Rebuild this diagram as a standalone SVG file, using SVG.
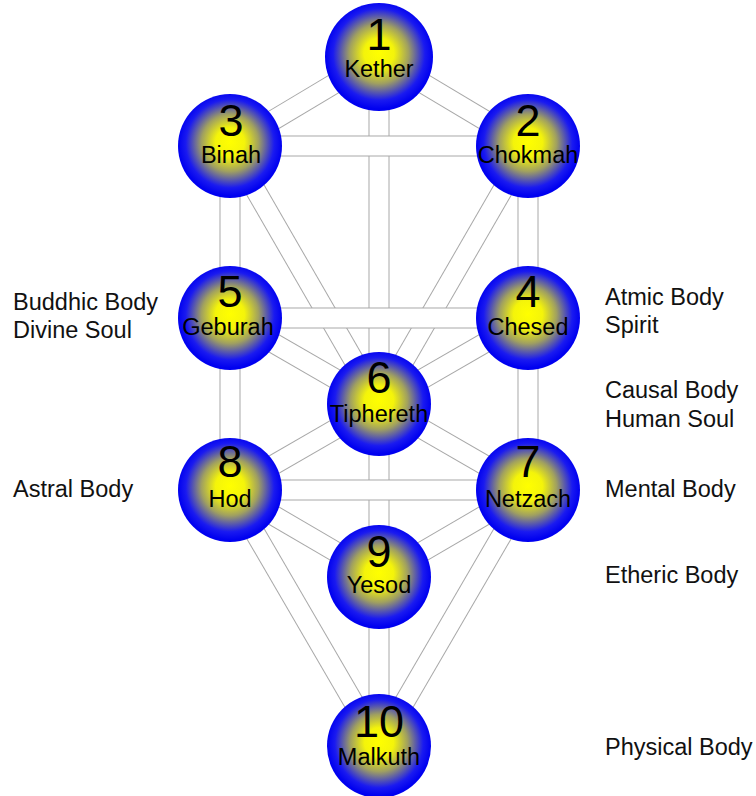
<svg xmlns="http://www.w3.org/2000/svg" width="756" height="796" viewBox="0 0 756 796">
<style>
.po{stroke:#a8a8a8;stroke-width:21;fill:none}
.pi{stroke:#ffffff;stroke-width:19;fill:none}
.ball{fill:url(#g)}
.num{font-family:"Liberation Sans",Arial,sans-serif;font-size:45px;fill:#000;text-anchor:middle}
.lbl{font-family:"Liberation Sans",Arial,sans-serif;font-size:23.5px;fill:#000;text-anchor:middle}
.side{font-family:"Liberation Sans",Arial,sans-serif;font-size:23.5px;fill:#111}
</style>
<defs>
<radialGradient id="g" cx="0.5" cy="0.48" r="0.5" fx="0.5" fy="0.46">
<stop offset="0" stop-color="#ffff00"/>
<stop offset="0.28" stop-color="#f4f40a"/>
<stop offset="0.55" stop-color="#a0a060"/>
<stop offset="0.85" stop-color="#1a1af0"/>
<stop offset="1" stop-color="#0000f0"/>
</radialGradient>
</defs>
<rect width="756" height="796" fill="#ffffff"/>
<g id="connectors">
<line class="po" x1="379" y1="57" x2="528" y2="146"/><line class="pi" x1="379" y1="57" x2="528" y2="146"/>
<line class="po" x1="379" y1="57" x2="230" y2="146"/><line class="pi" x1="379" y1="57" x2="230" y2="146"/>
<line class="po" x1="528" y1="146" x2="379" y2="404"/><line class="pi" x1="528" y1="146" x2="379" y2="404"/>
<line class="po" x1="230" y1="146" x2="379" y2="404"/><line class="pi" x1="230" y1="146" x2="379" y2="404"/>
<line class="po" x1="528" y1="318" x2="379" y2="404"/><line class="pi" x1="528" y1="318" x2="379" y2="404"/>
<line class="po" x1="230" y1="318" x2="379" y2="404"/><line class="pi" x1="230" y1="318" x2="379" y2="404"/>
<line class="po" x1="379" y1="404" x2="528" y2="490"/><line class="pi" x1="379" y1="404" x2="528" y2="490"/>
<line class="po" x1="379" y1="404" x2="230" y2="490"/><line class="pi" x1="379" y1="404" x2="230" y2="490"/>
<line class="po" x1="528" y1="490" x2="379" y2="577"/><line class="pi" x1="528" y1="490" x2="379" y2="577"/>
<line class="po" x1="230" y1="490" x2="379" y2="577"/><line class="pi" x1="230" y1="490" x2="379" y2="577"/>
<line class="po" x1="528" y1="490" x2="379" y2="746"/><line class="pi" x1="528" y1="490" x2="379" y2="746"/>
<line class="po" x1="230" y1="490" x2="379" y2="746"/><line class="pi" x1="230" y1="490" x2="379" y2="746"/>
<line class="po" x1="379" y1="57" x2="379" y2="404"/><line class="pi" x1="379" y1="57" x2="379" y2="404"/>
<line class="po" x1="379" y1="404" x2="379" y2="577"/><line class="pi" x1="379" y1="404" x2="379" y2="577"/>
<line class="po" x1="379" y1="577" x2="379" y2="746"/><line class="pi" x1="379" y1="577" x2="379" y2="746"/>
<line class="po" x1="230" y1="146" x2="230" y2="318"/><line class="pi" x1="230" y1="146" x2="230" y2="318"/>
<line class="po" x1="230" y1="318" x2="230" y2="490"/><line class="pi" x1="230" y1="318" x2="230" y2="490"/>
<line class="po" x1="528" y1="146" x2="528" y2="318"/><line class="pi" x1="528" y1="146" x2="528" y2="318"/>
<line class="po" x1="528" y1="318" x2="528" y2="490"/><line class="pi" x1="528" y1="318" x2="528" y2="490"/>
<line class="po" x1="230" y1="146" x2="528" y2="146"/><line class="pi" x1="230" y1="146" x2="528" y2="146"/>
<line class="po" x1="230" y1="318" x2="528" y2="318"/><line class="pi" x1="230" y1="318" x2="528" y2="318"/>
<line class="po" x1="230" y1="490" x2="528" y2="490"/><line class="pi" x1="230" y1="490" x2="528" y2="490"/>
</g>
<g id="n1"><circle class="ball" cx="379" cy="57" r="54"/><text class="num" x="379" y="50">1</text><text class="lbl" x="379" y="77">Kether</text></g>
<g id="n2"><circle class="ball" cx="528" cy="146" r="52"/><text class="num" x="528" y="136">2</text><text class="lbl" x="528" y="163">Chokmah</text></g>
<g id="n3"><circle class="ball" cx="230" cy="146" r="52"/><text class="num" x="231" y="136">3</text><text class="lbl" x="231" y="163">Binah</text></g>
<g id="n4"><circle class="ball" cx="528" cy="318" r="52"/><text class="num" x="528" y="307">4</text><text class="lbl" x="528" y="335">Chesed</text></g>
<g id="n5"><circle class="ball" cx="230" cy="318" r="52"/><text class="num" x="230" y="307">5</text><text class="lbl" x="228" y="335">Geburah</text></g>
<g id="n6"><circle class="ball" cx="379" cy="404" r="52"/><text class="num" x="379" y="393">6</text><text class="lbl" x="379" y="422">Tiphereth</text></g>
<g id="n7"><circle class="ball" cx="528" cy="490" r="52"/><text class="num" x="528" y="477">7</text><text class="lbl" x="528" y="507">Netzach</text></g>
<g id="n8"><circle class="ball" cx="230" cy="490" r="52"/><text class="num" x="230" y="477">8</text><text class="lbl" x="230" y="507">Hod</text></g>
<g id="n9"><circle class="ball" cx="379" cy="577" r="52"/><text class="num" x="379" y="567">9</text><text class="lbl" x="379" y="593">Yesod</text></g>
<g id="n10"><circle class="ball" cx="379" cy="746" r="52"/><text class="num" x="379" y="737">10</text><text class="lbl" x="379" y="765">Malkuth</text></g>
<g id="labels">
<text class="side" x="13" y="310">Buddhic Body</text>
<text class="side" x="13" y="338">Divine Soul</text>
<text class="side" x="13" y="497">Astral Body</text>
<text class="side" x="605" y="305">Atmic Body</text>
<text class="side" x="605" y="333">Spirit</text>
<text class="side" x="605" y="398">Causal Body</text>
<text class="side" x="605" y="427">Human Soul</text>
<text class="side" x="605" y="497">Mental Body</text>
<text class="side" x="605" y="583">Etheric Body</text>
<text class="side" x="605" y="755">Physical Body</text>
</g>
</svg>
